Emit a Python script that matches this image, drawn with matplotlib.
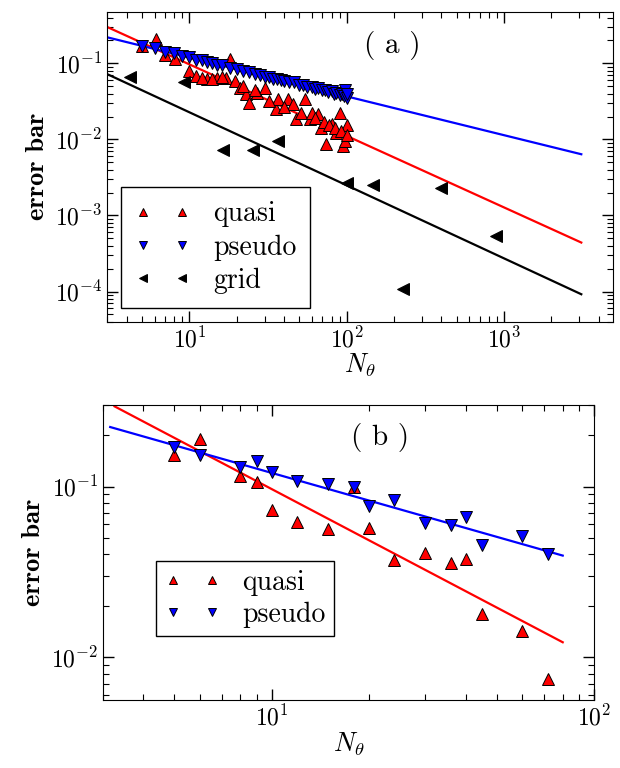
import matplotlib
matplotlib.use("Agg")
import matplotlib.pyplot as plt
import numpy as np

plt.rcParams['font.family'] = 'serif'
plt.rcParams['font.serif'] = ['cmr10', 'DejaVu Serif']
plt.rcParams['mathtext.fontset'] = 'cm'
plt.rcParams['axes.unicode_minus'] = False

# ---- panel (a) data ----
a_quasi_N = [5, 6.1, 7, 8.1, 10, 11, 13, 15, 17, 18, 19.4, 20.8, 23, 24, 27, 30, 35.6, 36.6,
             42, 45.5, 47.8, 51, 54, 58, 66, 69, 74, 80, 86, 90, 95, 98, 101,
             12, 14, 16, 22, 26, 32, 40, 60, 63, 72, 77, 84, 92, 100]
a_quasi_v = [0.169, 0.207, 0.127, 0.115, 0.079, 0.068, 0.062, 0.065, 0.065, 0.113, 0.058, 0.048,
             0.039, 0.030, 0.041, 0.048, 0.0248, 0.0336, 0.034, 0.029, 0.0183, 0.0224, 0.034,
             0.0183, 0.0213, 0.0143, 0.0086, 0.0158, 0.0122, 0.0224, 0.0082, 0.0095, 0.0153,
             0.064, 0.062, 0.066, 0.050, 0.044, 0.032, 0.027, 0.022, 0.019, 0.017, 0.0155,
             0.014, 0.013, 0.0115]
a_pseudo_N = [5, 6, 7, 8, 9, 10, 11, 12, 13, 14, 15, 16, 18, 20, 22, 24, 26, 28, 30, 32, 34,
              36, 38, 40, 43, 46, 50, 53, 56, 60, 63, 66, 70, 73, 76, 80, 83, 86, 90, 93, 96,
              98, 100, 100]
a_pseudo_v = [0.170, 0.158, 0.141, 0.135, 0.124, 0.121, 0.112, 0.110, 0.103, 0.101, 0.096,
              0.095, 0.087, 0.084, 0.079, 0.077, 0.072, 0.071, 0.067, 0.066, 0.063, 0.063,
              0.060, 0.059, 0.056, 0.056, 0.052, 0.052, 0.049, 0.049, 0.046, 0.047, 0.044,
              0.045, 0.042, 0.043, 0.040, 0.041, 0.038, 0.040, 0.037, 0.044, 0.035, 0.039]
a_grid_N = [4.2, 9.2, 16.4, 25.5, 36.8, 101, 146, 396, 884, 227]
a_grid_v = [0.067, 0.056, 0.0072, 0.0072, 0.0094, 0.0027, 0.0025, 0.0023, 5.3e-4, 1.07e-4]
# fits: prefactor, exponent
a_fit_quasi = (0.843, -0.94)
a_fit_pseudo = (0.385, -0.51)
a_fit_grid = (0.207, -0.96)
a_fit_range = (3.0, 3100.0)

# ---- panel (b) data ----
b_N = [5, 6, 8, 9, 10, 12, 15, 18, 20, 24, 30, 36, 40, 45, 60, 72]
b_quasi_v = [0.154, 0.19, 0.116, 0.106, 0.073, 0.062, 0.056, 0.10, 0.057, 0.037, 0.041,
             0.0356, 0.0375, 0.018, 0.0143, 0.0074]
b_pseudo_v = [0.171, 0.154, 0.13, 0.141, 0.121, 0.107, 0.104, 0.10, 0.077, 0.083, 0.061,
              0.0598, 0.066, 0.0456, 0.051, 0.040]
b_fit_quasi = (0.956, -0.995)
b_fit_pseudo = (0.414, -0.537)
b_fit_range_q = (3.26, 80.0)
b_fit_range_p = (3.16, 80.0)

fig = plt.figure(figsize=(6.2, 7.68), dpi=100)
axa = fig.add_axes([0.173, 0.581, 0.815, 0.404])
axb = fig.add_axes([0.166, 0.0885, 0.792, 0.384])

mk = dict(linestyle='none', markeredgecolor='black', markeredgewidth=0.7, markersize=8)

def fitline(ax, fit, rng, color):
    xs = np.logspace(np.log10(rng[0]), np.log10(rng[1]), 50)
    ax.plot(xs, fit[0] * xs ** fit[1], color=color, lw=1.6)

# panel a
fitline(axa, a_fit_quasi, a_fit_range, 'red')
fitline(axa, a_fit_pseudo, a_fit_range, 'blue')
fitline(axa, a_fit_grid, a_fit_range, 'black')
axa.plot(a_quasi_N, a_quasi_v, marker='^', color='red', label='quasi', **mk)
axa.plot(a_pseudo_N, a_pseudo_v, marker='v', color='blue', label='pseudo', **mk)
axa.plot(a_grid_N, a_grid_v, marker='<', color='black', label='grid', **mk)
axa.set_xlim(3, 4900)
axa.set_ylim(4e-5, 0.48)
axa.text(0.565, 0.89, '( a )', transform=axa.transAxes, ha='center', va='center', fontsize=21)

# panel b
fitline(axb, b_fit_quasi, b_fit_range_q, 'red')
fitline(axb, b_fit_pseudo, b_fit_range_p, 'blue')
axb.plot(b_N, b_quasi_v, marker='^', color='red', label='quasi', **mk)
axb.plot(b_N, b_pseudo_v, marker='v', color='blue', label='pseudo', **mk)
axb.set_xlim(3, 100)
axb.set_ylim(0.0056, 0.30)
axb.text(0.564, 0.89, '( b )', transform=axb.transAxes, ha='center', va='center', fontsize=21)

for ax in (axa, axb):
    ax.set_xscale('log')
    ax.set_yscale('log')
    ax.tick_params(which='both', direction='in', top=True, right=True, labelsize=17)
    ax.tick_params(which='major', length=8, width=1)
    ax.tick_params(which='minor', length=4, width=0.8)
    ax.set_xlabel(r'$N_\theta$', fontsize=19, labelpad=0)
    ax.set_ylabel('error bar', fontsize=19, family=['cmb10', 'DejaVu Serif'])

axa.legend(loc='lower left', bbox_to_anchor=(0.0, 0.0), numpoints=2, fancybox=False,
           edgecolor='black', framealpha=1, fontsize=20, handlelength=2, borderpad=0.5,
           labelspacing=0.25, markerscale=0.8).get_frame().set_linewidth(1)
axb.legend(loc='lower left', bbox_to_anchor=(0.08, 0.17), numpoints=2, fancybox=False,
           edgecolor='black', framealpha=1, fontsize=20, handlelength=2, borderpad=0.3,
           labelspacing=0.2, markerscale=0.8).get_frame().set_linewidth(1)

fig.savefig('out.png', dpi=100)
